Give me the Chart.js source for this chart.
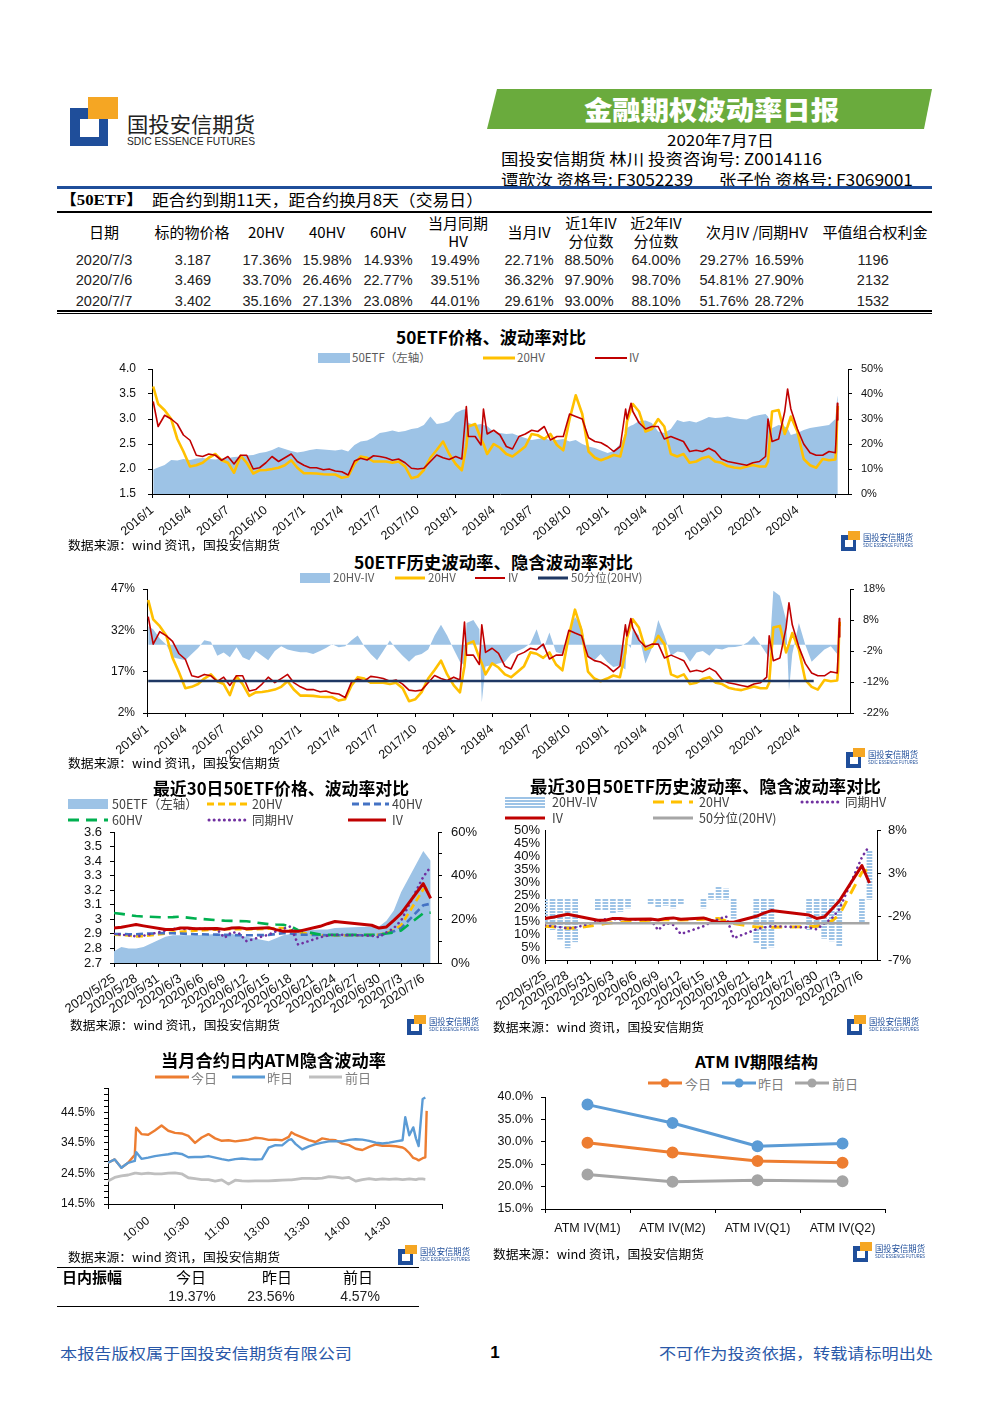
<!DOCTYPE html>
<html lang="zh-CN">
<head>
<meta charset="utf-8">
<title>金融期权波动率日报</title>
<script src="https://cdn.jsdelivr.net/npm/chart.js@4.4.1/dist/chart.umd.min.js"></script>
<style>
  html, body { margin: 0; padding: 0; background: #fff; }
  #page { position: relative; width: 992px; height: 1403px; overflow: hidden; background: #fff; }
  .t { position: absolute; white-space: nowrap; line-height: 1; transform-origin: left center; }
  .r { position: absolute; }
  canvas { position: absolute; }
</style>
</head>
<body>
<div id="page"></div>
<script>
// ---------- 50ETF long history (chart 1 & 2) ----------
const longDates = [
  '2016/1/4','2016/1/16','2016/2/1','2016/2/16','2016/3/1','2016/3/16','2016/4/1','2016/4/16','2016/5/1','2016/5/16',
  '2016/6/1','2016/6/16','2016/7/1','2016/7/16','2016/8/1','2016/8/16','2016/9/1','2016/9/16','2016/10/1','2016/10/16',
  '2016/11/1','2016/11/16','2016/12/1','2016/12/16','2017/1/1','2017/1/16','2017/2/1','2017/2/16','2017/3/1','2017/3/16',
  '2017/4/1','2017/4/16','2017/5/1','2017/5/16','2017/6/1','2017/6/16','2017/7/1','2017/7/16','2017/8/1','2017/8/16',
  '2017/9/1','2017/9/16','2017/10/1','2017/10/16','2017/11/1','2017/11/16','2017/12/1','2017/12/16','2018/1/1','2018/1/16',
  '2018/1/27','2018/2/1','2018/2/16','2018/3/1','2018/3/7','2018/3/16','2018/4/1','2018/4/16','2018/5/1','2018/5/16',
  '2018/6/1','2018/6/16','2018/7/1','2018/7/16','2018/8/1','2018/8/16','2018/9/1','2018/9/16','2018/10/1','2018/10/16',
  '2018/11/1','2018/11/16','2018/12/1','2018/12/16','2019/1/1','2019/1/16','2019/2/1','2019/2/13','2019/2/16','2019/2/25',
  '2019/3/1','2019/3/16','2019/4/1','2019/4/16','2019/5/1','2019/5/16','2019/6/1','2019/6/16','2019/7/1','2019/7/16',
  '2019/8/1','2019/8/16','2019/9/1','2019/9/16','2019/10/1','2019/10/16','2019/11/1','2019/11/16','2019/12/1','2019/12/16',
  '2020/1/1','2020/1/16','2020/1/22','2020/2/1','2020/2/16','2020/3/1','2020/3/8','2020/3/16','2020/4/1','2020/4/16',
  '2020/5/1','2020/5/16','2020/6/1','2020/6/16','2020/7/1','2020/7/3','2020/7/6','2020/7/7'
];
const etfClose = [
  1.99,2.03,2.08,2.18,2.17,2.20,2.18,2.21,2.22,2.20,
  2.19,2.21,2.22,2.24,2.25,2.27,2.28,2.32,2.34,2.38,
  2.44,2.40,2.36,2.33,2.35,2.38,2.40,2.39,2.38,2.37,
  2.39,2.35,2.48,2.55,2.57,2.63,2.72,2.74,2.77,2.74,
  2.76,2.80,2.82,2.88,3.05,2.90,2.92,2.96,3.12,3.18,
  3.20,2.92,2.88,2.90,2.88,2.86,2.74,2.72,2.70,2.71,
  2.66,2.62,2.58,2.60,2.62,2.57,2.58,2.60,2.55,2.58,
  2.50,2.45,2.42,2.37,2.32,2.36,2.50,2.70,2.82,2.87,
  2.88,2.96,2.97,2.92,2.75,2.72,2.80,2.98,2.94,2.96,
  2.93,2.98,3.04,3.02,3.03,3.05,3.02,3.00,2.99,3.05,
  3.08,3.10,3.05,2.82,2.88,2.85,2.82,2.68,2.72,2.78,
  2.82,2.84,2.86,2.88,3.00,3.19,3.47,3.40
];
const hv20 = [
  43,36,33.5,30,22,17,11,11.5,12.5,14.5,
  16,13.5,12.5,8.5,15.3,12.5,8.2,9.5,9.6,10,
  10.5,11.5,13.5,10.5,8.3,8.3,8.2,7.9,7.8,7.8,
  6.5,7,12,15,14.5,13,13,13,12.5,13,
  11,6.3,7,9.6,14.5,17.6,21,16,12,9.5,
  19,27,28,22,20,16,20,18.5,16,15,
  17,19,24,23.5,22,24,19.6,17.5,30,39.5,
  32,17,14.5,13.5,14.5,15.6,15,24,29,34,
  36,33,25,26,30,27,16,15,16,12.5,
  13,14.3,15,13,12.5,11.2,10.6,10.3,11,11.6,
  11,11,13,33,33.6,24,27,31,25,14,
  11.5,10.5,14,13.5,13.8,17.36,33.70,35.16
];
const ivAtm = [
  37,27,31.5,30,28,23.6,21.5,15.5,15,16,
  15.5,13.5,15,12,15.5,15.5,10,10.5,12.5,15,
  13,14.5,16,13,11.5,10.5,10.5,9.7,10,9.2,
  8.9,7.6,13.2,14.3,13.6,15.3,15,14.5,13.5,14,
  12.5,10.3,10,10.3,13,15.6,14.5,13.8,15,14,
  35,23,23,19.6,34,24,25.5,23.6,19,18,
  23,24,25.5,25,27,21.6,23,23,32,31,
  30,22.5,21,20.5,19,17,19,34,30,36.3,
  33,28.5,26,27,27,22,23,22,21,17,
  17.5,17,18.3,17,14,13,12.5,12,11.5,12.5,
  13,15,30,21,22,33,42,34,26,20,
  16.5,15.5,15.5,17,16.5,22.71,36.32,29.61
];
const hvMinusIv = [
  6,5,2,0,-4,-4.5,-5,-3,-1,1.5,
  1,-3.5,-2.5,-4,-0.8,-4,-5,-2,-3.5,-5,
  -2,-0.5,-1.5,-2,-2.4,-2.4,-3,-2,-1,0.2,
  -0.8,-0.5,1.5,3,-0.5,-3,-5,-2,1.4,-1.3,
  -3.5,-5.5,-3.5,-3,-1.5,3,6.5,3,-1.5,-5.5,
  -6.7,7,8,5,-18.5,-7,-6.5,-6,-5.5,-3,
  -2,-1,0.5,5,-1.5,4,-2.3,-3,4,9,
  6,-3.5,-5,-3,-5.5,-7.2,-6.7,-8,0.5,-1,
  5,3,-6,-1,8,3,-3.5,-2.2,-2.5,-5.5,
  -2.5,-2,-3.5,-1.2,-1.5,-0.8,-0.7,-0.3,0.8,2.8,
  0,-3,-4,17.4,15.8,8,-14.8,-3,7,0,
  -5.5,-3.5,-1.5,-0.5,-3,-5.35,-2.62,5.55
];
const quarterLabels = ['2016/1','2016/4','2016/7','2016/10','2017/1','2017/4','2017/7','2017/10','2018/1',
  '2018/4','2018/7','2018/10','2019/1','2019/4','2019/7','2019/10','2020/1','2020/4'];
const hv20Median = 13.6;
const hv20MedianEnd = '2020/5/6';

// ---------- last 30 trading days (chart 3) ----------
const recentDates = ['2020/5/25','2020/5/26','2020/5/27','2020/5/28','2020/5/29','2020/6/1','2020/6/2','2020/6/3','2020/6/4','2020/6/5',
  '2020/6/8','2020/6/9','2020/6/10','2020/6/11','2020/6/12','2020/6/15','2020/6/16','2020/6/17','2020/6/18','2020/6/19',
  '2020/6/22','2020/6/23','2020/6/24','2020/6/29','2020/6/30','2020/7/1','2020/7/2','2020/7/3','2020/7/6','2020/7/7'];
const recentClose = [2.78,2.81,2.80,2.80,2.81,2.88,2.89,2.89,2.89,2.89,2.90,2.90,2.90,2.89,2.88,2.85,2.87,2.89,2.90,2.92,2.93,2.93,2.94,2.95,2.95,2.99,3.06,3.187,3.469,3.402];
const recentHv20 = [13.0,12.8,12.6,12.2,12.3,13.5,14.0,14.3,14.5,14.8,15.3,15.5,15.5,15.5,15.4,15.7,16.0,16.0,15.0,14.0,12.7,12.7,12.6,12.8,13.0,13.8,15.0,17.36,33.70,35.16];
const recentHv40 = [13.3,13.3,13.2,13.2,13.4,13.7,13.6,13.5,13.3,13.2,13.0,12.9,12.8,12.7,12.7,12.8,13.3,13.7,13.5,13.0,12.8,12.7,12.7,12.7,12.9,13.5,14.5,15.98,26.46,27.13];
const recentHv60 = [22.9,22.5,22.0,21.5,21.3,20.9,21.0,21.2,20.8,20.4,19.6,19.4,19.3,19.2,19.1,17.8,17.6,17.5,16.8,15.0,13.0,12.9,12.9,12.9,13.0,13.5,14.0,14.93,22.77,23.08];
const recentSameHv = [13.3,13.0,12.6,12.2,12.5,14.8,15.7,15.7,15.6,15.7,15.5,11.5,14.2,13.5,10.0,13.0,14.5,15.7,16.8,8.4,11.8,12.5,13.0,12.5,11.8,14.0,16.0,19.49,39.51,44.01];
const recentIv = [16.0,16.4,17.0,17.6,17.0,15.3,15.3,16.0,16.0,15.7,15.8,15.4,16.0,16.2,15.7,16.2,15.3,14.5,14.5,14.5,16.8,18.0,19.0,17.3,16.0,16.5,19.5,22.71,36.32,29.61];
const recentDiff = [-2.6,-3.5,-4.6,-5.6,-4.9,-1.3,-1.2,-1.6,-1.4,-1.0,-0.6,-0.9,-0.7,-1.0,-0.5,-1.0,0.8,1.5,1.2,-2.2,-5.0,-5.8,-5.5,-3.5,-3.3,-4.5,-4.8,-5.35,-2.62,5.55];
const recentTickLabels = ['2020/5/25','2020/5/28','2020/5/31','2020/6/3','2020/6/6','2020/6/9','2020/6/12','2020/6/15',
  '2020/6/18','2020/6/21','2020/6/24','2020/6/27','2020/6/30','2020/7/3','2020/7/6'];
const hv20Median30 = 14.1;

// ---------- intraday ATM IV (minutes after 9:30, lunch removed) ----------
const intradayMin = [0,5,10,15,20,21,25,30,35,40,45,50,55,60,65,70,75,80,85,90,
  95,100,105,110,115,120,125,130,135,137,140,145,150,155,160,165,170,175,180,185,
  190,195,200,205,210,215,220,222,225,228,230,232,235,237,238];
const ivToday = [28.0,29.1,26.4,28.0,30.6,39.5,37.4,37.2,38.6,40.2,38.5,37.8,37.6,36.8,34.5,36.3,37.4,36.0,35.2,35.4,
  35.0,35.3,35.6,36.2,36.0,35.5,35.6,35.4,36.5,38.0,37.2,36.3,35.4,34.8,36.0,35.6,35.4,34.3,33.8,32.6,
  32.2,33.2,34.0,33.6,33.6,33.4,33.0,32.5,31.2,29.6,29.3,28.8,29.5,29.8,45.0];
const ivYesterday = [28.0,29.1,26.4,28.0,28.6,31.5,29.3,29.7,30.2,30.5,30.8,31.2,30.9,29.8,29.9,29.9,30.2,29.7,29.2,28.8,
  29.2,29.4,29.2,29.1,29.2,33.0,33.8,33.7,35.5,35.7,34.2,32.4,33.4,34.1,34.6,35.0,35.1,35.0,35.5,35.7,
  35.6,35.2,34.6,34.3,34.6,35.0,35.4,42.9,37.0,39.6,36.0,33.5,48.9,49.4,null];
const ivDayBefore = [22.0,23.2,23.7,24.0,24.6,24.6,24.4,24.6,24.4,24.4,24.6,24.7,24.4,23.1,22.8,22.5,22.5,22.0,22.4,21.0,
  22.3,22.1,22.0,22.1,22.1,22.1,22.2,22.3,22.4,22.4,22.6,22.9,22.9,22.8,23.0,23.5,23.3,23.0,23.2,22.0,
  22.5,22.8,22.5,22.7,22.6,22.7,22.5,22.6,22.7,22.6,22.5,22.7,22.7,22.6,null];
const intradayTickPos = [30,60,90,120,150,180,210];
const intradayTickLabels = ['10:00','10:30','11:00','13:00','13:30','14:00','14:30'];
const amplitudeLabels = ['今日','昨日','前日'];
const amplitudeValues = ['19.37%','23.56%','4.57%'];

// ---------- ATM IV term structure ----------
const termLabels = ['ATM IV(M1)','ATM IV(M2)','ATM IV(Q1)','ATM IV(Q2)'];
const termToday = [29.8,27.6,25.7,25.3];
const termYesterday = [38.3,34.2,29.0,29.6];
const termDayBefore = [22.7,21.1,21.4,21.2];

// ---------- summary table ----------
const tableHead = ['日期','标的物价格','20HV','40HV','60HV','当月同期\nHV','当月IV','近1年IV\n分位数','近2年IV\n分位数','次月IV /同期HV','平值组合权利金'];
const tableRows = [
  ['2020/7/3','3.187','17.36%','15.98%','14.93%','19.49%','22.71%','88.50%','64.00%','29.27%','16.59%','1196'],
  ['2020/7/6','3.469','33.70%','26.46%','22.77%','39.51%','36.32%','97.90%','98.70%','54.81%','27.90%','2132'],
  ['2020/7/7','3.402','35.16%','27.13%','23.08%','44.01%','29.61%','93.00%','88.10%','51.76%','28.72%','1532']
];

// ================= helpers =================
const page = document.getElementById('page');
const CJK = "'Noto Sans CJK SC','Noto Sans',sans-serif";
const LAT = "'Liberation Sans','Noto Sans CJK SC',sans-serif";
const SOURCE = '数据来源：wind 资讯，国投安信期货';
const PT = 24; // room above each plot for the top tick label
Chart.defaults.font.family = LAT;
Chart.defaults.animation = false;

function txt(x, y, s, o = {}) {
  const d = document.createElement('div');
  d.className = 't';
  d.textContent = s;
  d.style.fontSize = (o.size || 12) + 'px';
  d.style.fontFamily = o.font || CJK;
  d.style.fontWeight = o.weight || 400;
  d.style.color = o.color || '#000';
  if (o.ls) d.style.letterSpacing = o.ls + 'px';
  d.style.top = y + 'px';
  page.appendChild(d);
  const nw = d.getBoundingClientRect().width;
  const k = o.w ? o.w / nw : 1;
  const fw = nw * k;
  const al = o.align || 'left';
  d.style.left = (al === 'center' ? x - fw / 2 : al === 'right' ? x - fw : x) + 'px';
  d.style.transform = `translateY(-50%) scaleX(${k})`;
  return d;
}
function rect(x, y, w, h, color) {
  const d = document.createElement('div');
  d.className = 'r';
  Object.assign(d.style, { left: x + 'px', top: y + 'px', width: w + 'px', height: h + 'px', background: color });
  page.appendChild(d);
  return d;
}
function swatch(x, y, w, kind, color) {
  const c = document.createElement('canvas');
  c.width = w; c.height = 14;
  c.style.left = x + 'px'; c.style.top = (y - 7) + 'px';
  const g = c.getContext('2d');
  g.fillStyle = color; g.strokeStyle = color;
  if (kind === 'box') g.fillRect(0, 2, w, 10);
  else if (kind === 'stripe') { for (let yy = 2; yy < 12; yy += 3) g.fillRect(0, yy, w, 2); }
  else {
    g.lineWidth = kind === 'thin' ? 2 : 3;
    g.setLineDash(kind === 'dash' ? [7, 4] : kind === 'longdash' ? [11, 7] : kind === 'dot' ? [0.1, 5] : []);
    g.lineCap = kind === 'dot' ? 'round' : 'butt';
    g.beginPath(); g.moveTo(kind === 'dot' ? 2 : 0, 7); g.lineTo(w, 7); g.stroke();
    if (kind === 'marker') { g.beginPath(); g.arc(w / 2, 7, 4.5, 0, Math.PI * 2); g.fill(); }
  }
  page.appendChild(c);
}
function leg(x, y, s, size, color) {
  return txt(x, y, s, { size: size || 11.5, color: color || '#595959' });
}
function logo(x, y, s) {
  rect(x, y + 11 * s, 38 * s, 38 * s, '#1f4e9a');
  rect(x + 18 * s, y, 30 * s, 22 * s, '#f5a623');
  rect(x + 10 * s, y + 22 * s, 19 * s, 18 * s, '#fff');
}
function miniLogo(x, y) {
  logo(x, y, 0.4);
  txt(x + 22, y + 6, '国投安信期货', { size: 9, color: '#1f4e9a', w: 50 });
  txt(x + 22, y + 14, 'SDIC ESSENCE FUTURES', { size: 6, font: LAT, color: '#1f4e9a', w: 50 });
}
function box(plot, pad) {
  const c = document.createElement('canvas');
  c.width = plot[2] - plot[0] + pad[0] + pad[2];
  c.height = plot[3] - plot[1] + PT + pad[3];
  c.style.left = (plot[0] - pad[0]) + 'px';
  c.style.top = (plot[1] - PT) + 'px';
  page.appendChild(c);
  return c;
}
const range = (a, b, s) => { const r = []; for (let v = a; v <= b + 1e-9; v += s) r.push(+v.toFixed(4)); return r; };
const xy = (xs, ys) => ys.map((y, i) => ({ x: xs[i], y }));
function monthIdx(s) {
  const [y, m, d] = s.split('/').map(Number);
  return (y - 2016) * 12 + (m - 1) + (d - 1) / new Date(y, m, 0).getDate();
}
function dayOffset(s) {
  const [y, m, d] = s.split('/').map(Number);
  return Math.round((Date.UTC(y, m - 1, d) - Date.UTC(2020, 4, 25)) / 864e5);
}
function axis(position, size, o) {
  const horiz = position === 'bottom';
  return {
    type: o.type || 'linear', position, min: o.min, max: o.max, offset: !!o.offset,
    border: { display: true, color: '#000', width: 1 },
    grid: { drawOnChartArea: false, drawTicks: true, tickLength: o.tickLen === undefined ? 4 : o.tickLen,
            color: o.gridColor || '#000', offset: !!o.offset },
    ticks: Object.assign({ font: { family: LAT, size: o.fontSize || 12 }, color: '#111', padding: o.pad === undefined ? 4 : o.pad,
      autoSkip: false, maxRotation: o.rot || 0, minRotation: o.rot || 0 }, o.ticks || {}),
    afterBuildTicks: o.tickValues ? s => { s.ticks = o.tickValues.map(v => ({ value: v })); } : undefined,
    afterFit: s => { if (horiz) s.height = size; else s.width = size; }
  };
}
function opts(right, scales) {
  return {
    responsive: false, animation: false, events: [],
    layout: { padding: { left: 0, top: PT, right, bottom: 0 } },
    plugins: { legend: { display: false }, tooltip: { enabled: false }, title: { display: false } },
    elements: { point: { radius: 0 }, line: { tension: 0, borderJoinStyle: 'round' } },
    scales
  };
}
function stripes() {
  const c = document.createElement('canvas');
  c.width = 4; c.height = 3;
  const g = c.getContext('2d');
  g.fillStyle = '#9dc3e6'; g.fillRect(0, 0, 4, 2);
  return g.createPattern(c, 'repeat');
}

// ================= header =================
logo(70, 97, 1);
txt(127, 123, '国投安信期货', { size: 21, color: '#222', w: 128 });
txt(127, 141, 'SDIC ESSENCE FUTURES', { size: 11, font: "'Liberation Sans Narrow','Liberation Sans',sans-serif", color: '#222', w: 128 });
const banner = rect(487, 89, 445, 40, '#6aab3d');
banner.style.clipPath = 'polygon(10px 0, 100% 0, calc(100% - 8px) 100%, 0 100%)';
txt(711, 109, '金融期权波动率日报', { size: 26, weight: 900, color: '#fff', align: 'center', w: 255 });
txt(720, 139, '2020年7月7日', { size: 15, align: 'center', w: 107 });
txt(501, 158, '国投安信期货 林川 投资咨询号: Z0014116', { size: 16, w: 321 });
txt(501, 179, '谭歆汝 资格号: F3052239', { size: 16, w: 192 });
txt(719, 179, '张子怡 资格号: F3069001', { size: 16, w: 194 });
rect(57, 186, 875, 3, '#1f4e9a');
txt(60, 200, '【50ETF】', { size: 15, weight: 700, font: "'Liberation Serif','Noto Sans CJK SC',serif", w: 83 });
txt(152, 199, '距合约到期11天，距合约换月8天（交易日）', { size: 16, w: 331 });
rect(57, 211, 875, 2, '#000');

// table
const headX = [104, 192, 266, 327, 388, 458, 529, 591, 656, 757, 875];
tableHead.forEach((h, i) => {
  const parts = h.split('\n');
  if (parts.length === 1) txt(headX[i], 231, h, { size: 15, align: 'center' });
  else { txt(headX[i], 222, parts[0], { size: 15, align: 'center' }); txt(headX[i], 240, parts[1], { size: 15, align: 'center' }); }
});
const rowX = [104, 193, 267, 327, 388, 455, 529, 589, 656, 724, 779, 873];
const rowY = [260, 280, 301];
tableRows.forEach((row, r) => row.forEach((v, i) =>
  txt(rowX[i], rowY[r], v, { size: 14.5, font: LAT, align: 'center', color: '#222' })));
rect(57, 310, 875, 2, '#000');
rect(57, 313, 875, 1, '#000');

// ================= chart 1: price & vol =================
const mIdx = longDates.map(monthIdx);
const quarterTicks = range(0, 54, 3);
txt(491, 336, '50ETF价格、波动率对比', { size: 17, weight: 700, align: 'center', w: 190 });
swatch(318, 358, 32, 'box', '#9dc3e6'); leg(352, 358, '50ETF（左轴）');
swatch(483, 358, 32, 'line', '#ffc000'); leg(517, 358, '20HV');
swatch(595, 358, 32, 'thin', '#c00000'); leg(629, 358, 'IV');
new Chart(box([152, 369, 848, 494], [64, PT, 48, 52]), {
  type: 'line',
  data: { datasets: [
    { data: xy(mIdx, ivAtm), yAxisID: 'y2', borderColor: '#c00000', borderWidth: 1.6, order: 1 },
    { data: xy(mIdx, hv20), yAxisID: 'y2', borderColor: '#ffc000', borderWidth: 2.6, order: 2 },
    { data: xy(mIdx, etfClose), yAxisID: 'y', borderColor: 'rgba(0,0,0,0)', backgroundColor: '#9dc3e6', fill: 'start', order: 3 }
  ] },
  options: opts(0, {
    x: axis('bottom', 52, { min: 0, max: 55, rot: 40, pad: 5, fontSize: 12.5, tickValues: quarterTicks,
      ticks: { callback: (v, i) => quarterLabels[i] || '' } }),
    y: axis('left', 64, { min: 1.5, max: 4, pad: 12, tickValues: range(1.5, 4, 0.5), ticks: { callback: v => v.toFixed(1) } }),
    y2: axis('right', 48, { min: 0, max: 50, pad: 9, fontSize: 11, tickValues: range(0, 50, 10), ticks: { callback: v => v + '%' } })
  })
});
txt(68, 545, SOURCE, { size: 12.5, w: 212 });
miniLogo(841, 531);

// ================= chart 2: HV vs IV =================
txt(493, 561, '50ETF历史波动率、隐含波动率对比', { size: 17, weight: 700, align: 'center', w: 279 });
swatch(300, 578, 30, 'box', '#9dc3e6'); leg(333, 578, '20HV-IV');
swatch(395, 578, 30, 'line', '#ffc000'); leg(428, 578, '20HV');
swatch(475, 578, 30, 'thin', '#c00000'); leg(508, 578, 'IV');
swatch(538, 578, 30, 'line', '#1f3864'); leg(571, 578, '50分位(20HV)');
new Chart(box([147, 589, 850, 713], [64, PT, 48, 52]), {
  type: 'line',
  data: { datasets: [
    { data: [{ x: mIdx[0], y: hv20Median }, { x: monthIdx(hv20MedianEnd), y: hv20Median }], yAxisID: 'y', borderColor: '#1f3864', borderWidth: 2.4, order: 0 },
    { data: xy(mIdx, ivAtm), yAxisID: 'y', borderColor: '#c00000', borderWidth: 1.6, order: 1 },
    { data: xy(mIdx, hv20), yAxisID: 'y', borderColor: '#ffc000', borderWidth: 2.6, order: 2 },
    { data: xy(mIdx, hvMinusIv), yAxisID: 'y2', borderColor: 'rgba(0,0,0,0)', backgroundColor: '#9dc3e6', fill: 'origin', order: 3 }
  ] },
  options: opts(0, {
    x: axis('bottom', 52, { min: 0, max: 55, rot: 40, pad: 5, fontSize: 12.5, tickValues: quarterTicks,
      ticks: { callback: (v, i) => quarterLabels[i] || '' } }),
    y: axis('left', 64, { min: 2, max: 47, pad: 8, tickValues: range(2, 47, 15), ticks: { callback: v => v + '%' } }),
    y2: axis('right', 48, { min: -22, max: 18, pad: 9, fontSize: 11, tickValues: range(-22, 18, 10), ticks: { callback: v => v + '%' } })
  })
});
txt(68, 763, SOURCE, { size: 12.5, w: 212 });
miniLogo(846, 748);

// ================= chart 3L: last 30 days price & vol =================
const dIdx = recentDates.map(dayOffset);
const recentTicks = range(0, 42, 3);
txt(281, 787, '最近30日50ETF价格、波动率对比', { size: 17, weight: 700, align: 'center', w: 256 });
swatch(68, 804, 40, 'box', '#9dc3e6'); leg(112, 804, '50ETF（左轴）', 12.5, '#404040');
swatch(207, 804, 42, 'dash', '#ffc000'); leg(252, 804, '20HV', 12.5, '#404040');
swatch(352, 804, 37, 'dash', '#4472c4'); leg(392, 804, '40HV', 12.5, '#404040');
swatch(68, 820, 40, 'longdash', '#00b050'); leg(112, 820, '60HV', 12.5, '#404040');
swatch(207, 820, 42, 'dot', '#7030a0'); leg(252, 820, '同期HV', 12.5, '#404040');
swatch(348, 820, 38, 'line', '#c00000'); leg(392, 820, 'IV', 12.5, '#404040');
new Chart(box([114, 832, 438, 963], [60, PT, 46, 62]), {
  type: 'line',
  data: { datasets: [
    { data: xy(dIdx, recentIv), yAxisID: 'y2', borderColor: '#c00000', borderWidth: 3, order: 1 },
    { data: xy(dIdx, recentSameHv), yAxisID: 'y2', borderColor: '#7030a0', borderWidth: 2.6, borderDash: [0.1, 5], borderCapStyle: 'round', order: 2 },
    { data: xy(dIdx, recentHv60), yAxisID: 'y2', borderColor: '#00b050', borderWidth: 2.6, borderDash: [11, 7], order: 3 },
    { data: xy(dIdx, recentHv40), yAxisID: 'y2', borderColor: '#4472c4', borderWidth: 2.6, borderDash: [7, 4], order: 4 },
    { data: xy(dIdx, recentHv20), yAxisID: 'y2', borderColor: '#ffc000', borderWidth: 2.6, borderDash: [7, 4], order: 5 },
    { data: xy(dIdx, recentClose), yAxisID: 'y', borderColor: 'rgba(0,0,0,0)', backgroundColor: '#9dc3e6', fill: 'start', order: 6 }
  ] },
  options: opts(0, {
    x: axis('bottom', 62, { min: 0, max: 44, rot: 35, pad: 4, fontSize: 13, tickValues: recentTicks,
      ticks: { callback: (v, i) => recentTickLabels[i] || '' } }),
    y: axis('left', 60, { min: 2.7, max: 3.6, pad: 8, fontSize: 13, tickValues: range(2.7, 3.6, 0.1), ticks: { callback: v => String(+v.toFixed(1)) } }),
    y2: axis('right', 46, { min: 0, max: 60, pad: 9, fontSize: 13, tickValues: range(0, 60, 10), ticks: { callback: v => v % 20 === 0 ? v + '%' : '' } })
  })
});
txt(70, 1025, SOURCE, { size: 12.5, w: 210 });
miniLogo(407, 1015);

// ================= chart 3R: last 30 days HV vs IV =================
txt(705, 785, '最近30日50ETF历史波动率、隐含波动率对比', { size: 17, weight: 700, align: 'center', w: 351 });
swatch(505, 802, 40, 'stripe', '#9dc3e6'); leg(552, 802, '20HV-IV', 12.5, '#404040');
swatch(653, 802, 40, 'longdash', '#ffc000'); leg(699, 802, '20HV', 12.5, '#404040');
swatch(800, 802, 40, 'dot', '#7030a0'); leg(845, 802, '同期HV', 12.5, '#404040');
swatch(505, 818, 40, 'line', '#c00000'); leg(552, 818, 'IV', 12.5, '#404040');
swatch(653, 818, 40, 'line', '#a6a6a6'); leg(699, 818, '50分位(20HV)', 12.5, '#404040');
new Chart(box([545, 830, 877, 960], [60, PT, 46, 62]), {
  type: 'line',
  data: { datasets: [
    { data: [{ x: dIdx[0], y: hv20Median30 }, { x: dIdx[dIdx.length - 1], y: hv20Median30 }], yAxisID: 'y', borderColor: '#a6a6a6', borderWidth: 2.5, order: 0 },
    { data: xy(dIdx, recentIv), yAxisID: 'y', borderColor: '#c00000', borderWidth: 3, order: 1 },
    { data: xy(dIdx, recentSameHv), yAxisID: 'y', borderColor: '#7030a0', borderWidth: 2.6, borderDash: [0.1, 5], borderCapStyle: 'round', order: 2 },
    { data: xy(dIdx, recentHv20), yAxisID: 'y', borderColor: '#ffc000', borderWidth: 3, borderDash: [11, 8], order: 3 },
    { type: 'bar', data: xy(dIdx, recentDiff), yAxisID: 'y2', backgroundColor: stripes(), barThickness: 5, order: 4 }
  ] },
  options: opts(0, {
    x: axis('bottom', 62, { min: 0, max: 44, rot: 35, pad: 4, fontSize: 13, tickValues: recentTicks,
      ticks: { callback: (v, i) => recentTickLabels[i] || '' } }),
    y: axis('left', 60, { min: 0, max: 50, pad: 5, tickLen: 0, fontSize: 13, tickValues: range(0, 50, 5), ticks: { callback: v => v + '%' } }),
    y2: axis('right', 46, { min: -7, max: 8, pad: 7, fontSize: 13, tickValues: range(-7, 8, 5), ticks: { callback: v => v + '%' } })
  })
});
txt(493, 1027, SOURCE, { size: 12.5, w: 211 });
miniLogo(847, 1015);

// ================= chart 4L: intraday ATM IV =================
txt(273, 1059, '当月合约日内ATM隐含波动率', { size: 17, weight: 700, align: 'center', w: 225 });
swatch(155, 1077, 34, 'line', '#ed7d31'); leg(191, 1077, '今日', 13, '#808080');
swatch(232, 1077, 33, 'line', '#5b9bd5'); leg(267, 1077, '昨日', 13, '#808080');
swatch(309, 1077, 33, 'line', '#bfbfbf'); leg(345, 1077, '前日', 13, '#808080');
new Chart(box([108, 1088, 447, 1204], [58, PT, 10, 50]), {
  type: 'line',
  data: { datasets: [
    { data: xy(intradayMin, ivDayBefore), borderColor: '#bfbfbf', borderWidth: 2.8, order: 1 },
    { data: xy(intradayMin, ivYesterday), borderColor: '#5b9bd5', borderWidth: 2.4, order: 2 },
    { data: xy(intradayMin, ivToday), borderColor: '#ed7d31', borderWidth: 2.4, order: 3 }
  ] },
  options: opts(10, {
    x: axis('bottom', 50, { min: 0, max: 250, rot: 40, pad: 5, tickLen: 5,
      tickValues: [0, 30, 50, 60, 90, 100, 120, 150, 180, 200, 210, 250],
      gridColor: c => (c.tick && c.tick.value % 50 === 0) ? '#000' : 'rgba(0,0,0,0)',
      ticks: { callback: v => { const k = intradayTickPos.indexOf(v); return k >= 0 ? intradayTickLabels[k] : ''; } } }),
    y: axis('left', 58, { min: 14.5, max: 52.5, pad: 9, tickValues: range(14.5, 52.5, 2),
      ticks: { callback: v => Math.abs((v - 14.5) / 10 - Math.round((v - 14.5) / 10)) < 1e-6 ? v.toFixed(1) + '%' : '' } })
  })
});
txt(68, 1257, SOURCE, { size: 12.5, w: 212 });
miniLogo(398, 1245);
rect(57, 1267, 362, 1, '#000');
txt(62, 1276, '日内振幅', { size: 15, weight: 700 });
[191, 277, 358].forEach((x, i) => txt(x, 1276, amplitudeLabels[i], { size: 15, align: 'center' }));
[192, 271, 360].forEach((x, i) => txt(x, 1296, amplitudeValues[i], { size: 14, font: LAT, align: 'center', color: '#222' }));
rect(57, 1306, 362, 1, '#000');

// ================= chart 4R: term structure =================
txt(756, 1061, 'ATM IV期限结构', { size: 16, weight: 700, align: 'center', w: 123 });
swatch(648, 1083, 34, 'marker', '#ed7d31'); leg(685, 1083, '今日', 13, '#808080');
swatch(722, 1083, 34, 'marker', '#5b9bd5'); leg(758, 1083, '昨日', 13, '#808080');
swatch(795, 1083, 34, 'marker', '#a5a5a5'); leg(832, 1083, '前日', 13, '#808080');
const termPoint = c => ({ borderColor: c, backgroundColor: c, pointBackgroundColor: c, pointBorderColor: c, borderWidth: 3, pointRadius: 4.5 });
new Chart(box([545, 1097, 885, 1209], [64, PT, 15, 34]), {
  type: 'line',
  data: { labels: termLabels, datasets: [
    Object.assign({ data: termDayBefore, order: 1 }, termPoint('#a5a5a5')),
    Object.assign({ data: termYesterday, order: 2 }, termPoint('#5b9bd5')),
    Object.assign({ data: termToday, order: 3 }, termPoint('#ed7d31'))
  ] },
  options: opts(15, {
    x: axis('bottom', 34, { type: 'category', offset: true, pad: 8, fontSize: 12.5 }),
    y: axis('left', 64, { min: 15, max: 40, pad: 8, fontSize: 12.5, tickValues: range(15, 40, 5), ticks: { callback: v => v.toFixed(1) + '%' } })
  })
});
txt(493, 1254, SOURCE, { size: 12.5, w: 211 });
miniLogo(853, 1242);

// ================= footer =================
txt(60, 1352, '本报告版权属于国投安信期货有限公司', { size: 15, color: '#2a58a8', w: 292 });
txt(495, 1352, '1', { size: 17, weight: 700, font: LAT, align: 'center' });
txt(659, 1352, '不可作为投资依据，转载请标明出处', { size: 15, color: '#2a58a8', w: 274 });
</script>
</body>
</html>
